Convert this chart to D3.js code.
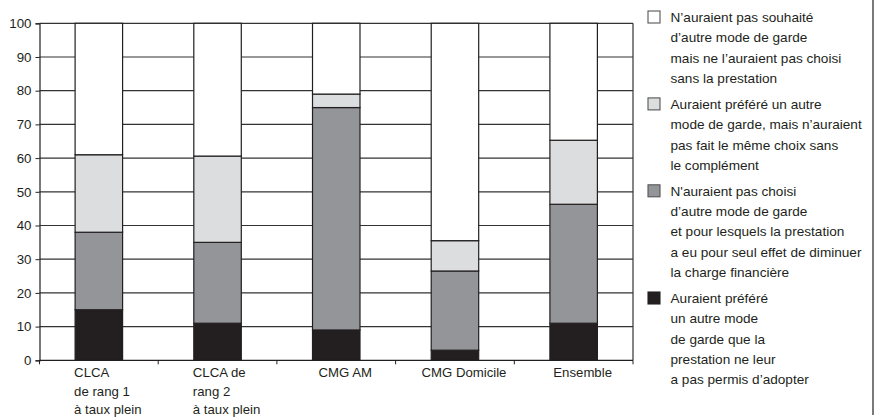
<!DOCTYPE html>
<html><head><meta charset="utf-8">
<script src="https://cdn.jsdelivr.net/npm/d3@7"></script>
<style>body{margin:0;background:#fff}svg{display:block;font-family:"Liberation Sans",Arial,sans-serif}</style>
</head><body><svg id="c" width="877" height="417"></svg>
<script>
const categories = [
  ["CLCA", "de rang 1", "à taux plein"],
  ["CLCA de", "rang 2", "à taux plein"],
  ["CMG AM"],
  ["CMG Domicile"],
  ["Ensemble"]
];
const seriesKeys = ["prefereNonPermis", "pasChoisiCharge", "prefereMemeChoix", "pasSouhaite"];
const prefereNonPermis = [15, 11, 9, 3, 11];
const pasChoisiCharge = [23, 24, 66, 23.5, 35.3];
const prefereMemeChoix = [23, 25.6, 4, 9, 19];
const pasSouhaite = [39, 39.4, 21, 64.5, 34.7];
const seriesColors = ["#231f20", "#939598", "#dcddde", "#ffffff"];
const legendLabels = [
  ["N’auraient pas souhaité", "d’autre mode de garde", "mais ne l’auraient pas choisi", "sans la prestation"],
  ["Auraient préféré un autre", "mode de garde, mais n’auraient", "pas fait le même choix sans", "le complément"],
  ["N'auraient pas choisi", "d’autre mode de garde", "et pour lesquels la prestation", "a eu pour seul effet de diminuer", "la charge financière"],
  ["Auraient préféré", "un autre mode", "de garde que la", "prestation ne leur", "a pas permis d’adopter"]
];
const legendSeries = [3, 2, 1, 0];
const yTicks = [0, 10, 20, 30, 40, 50, 60, 70, 80, 90, 100];

(function () {
const seriesValues = [prefereNonPermis, pasChoisiCharge, prefereMemeChoix, pasSouhaite];
const rows = categories.map((c, i) => {
  const r = {i};
  seriesKeys.forEach((k, j) => r[k] = seriesValues[j][i]);
  return r;
});

const svg = d3.select("#c");
const pL = 39.5, pR = 633, pT = 23.3, pB = 360.3;
const x = d3.scaleBand().domain(d3.range(categories.length)).range([pL, pR]).paddingInner(0.6).paddingOuter(0.3);
const y = d3.scaleLinear().domain([0, 100]).range([pB, pT]);

svg.append("g").selectAll("line").data(yTicks.filter(d => d > 0)).join("line")
  .attr("x1", pL).attr("x2", pR)
  .attr("y1", d => y(d)).attr("y2", d => y(d))
  .attr("stroke", "#333").attr("stroke-width", 1.2);
svg.append("line").attr("x1", pR).attr("x2", pR).attr("y1", pT).attr("y2", pB)
  .attr("stroke", "#333").attr("stroke-width", 1.2);

const stack = d3.stack().keys(seriesKeys)(rows);
svg.append("g").selectAll("g").data(stack).join("g")
  .attr("fill", (d, j) => seriesColors[j])
  .selectAll("rect").data(d => d).join("rect")
  .attr("x", d => x(d.data.i))
  .attr("width", x.bandwidth())
  .attr("y", d => y(d[1]))
  .attr("height", d => y(d[0]) - y(d[1]))
  .attr("stroke", "#231f20").attr("stroke-width", 1.2);

const yAxis = svg.append("g").attr("transform", `translate(${pL},0)`)
  .call(d3.axisLeft(y).tickValues(yTicks).tickSize(4).tickPadding(4).tickFormat(d3.format("d")));
yAxis.select(".domain").attr("stroke", "#231f20").attr("stroke-width", 1.2);
yAxis.selectAll(".tick line").attr("stroke", "#231f20");
yAxis.selectAll("text").attr("font-size", 13.3).attr("fill", "#231f20").attr("font-family", "Liberation Sans, Arial, sans-serif");

const bounds = d3.range(categories.length + 1).map(i => pL + i * x.step());
svg.append("line").attr("x1", pL).attr("x2", pR).attr("y1", pB).attr("y2", pB)
  .attr("stroke", "#231f20").attr("stroke-width", 1.2);
svg.append("g").selectAll("line").data(bounds).join("line")
  .attr("x1", d => d).attr("x2", d => d).attr("y1", pB).attr("y2", pB + 4)
  .attr("stroke", "#231f20");

const lab = svg.append("g").selectAll("text").data(categories).join("text")
  .attr("font-size", 13.2).attr("fill", "#231f20");
lab.each(function(lines, i) {
  const t = d3.select(this);
  lines.forEach((l, k) => t.append("tspan").attr("x", 0).attr("y", 377 + k * 18.5).text(l));
  const w = this.getBBox().width;
  t.attr("transform", `translate(${x(i) + x.bandwidth() / 2 + 9 - w / 2},0)`);
});

const lg = svg.append("g");
let yy = 22;
legendLabels.forEach((lines, n) => {
  const j = legendSeries[n];
  lg.append("rect").attr("x", 648).attr("y", yy - 11).attr("width", 12).attr("height", 12)
    .attr("fill", seriesColors[j]).attr("stroke", j === 0 ? "#231f20" : "#555").attr("stroke-width", 1.1);
  const t = lg.append("text").attr("font-size", 13.6).attr("fill", "#231f20");
  lines.forEach((l, k) => t.append("tspan").attr("x", 670.5).attr("y", yy + k * 20.3).text(l));
  yy += (lines.length - 1) * 20.3 + 26;
});

svg.append("line").attr("x1", 873).attr("x2", 873).attr("y1", 0).attr("y2", 415)
  .attr("stroke", "#231f20").attr("stroke-width", 1.2);
})();
</script></body></html>
